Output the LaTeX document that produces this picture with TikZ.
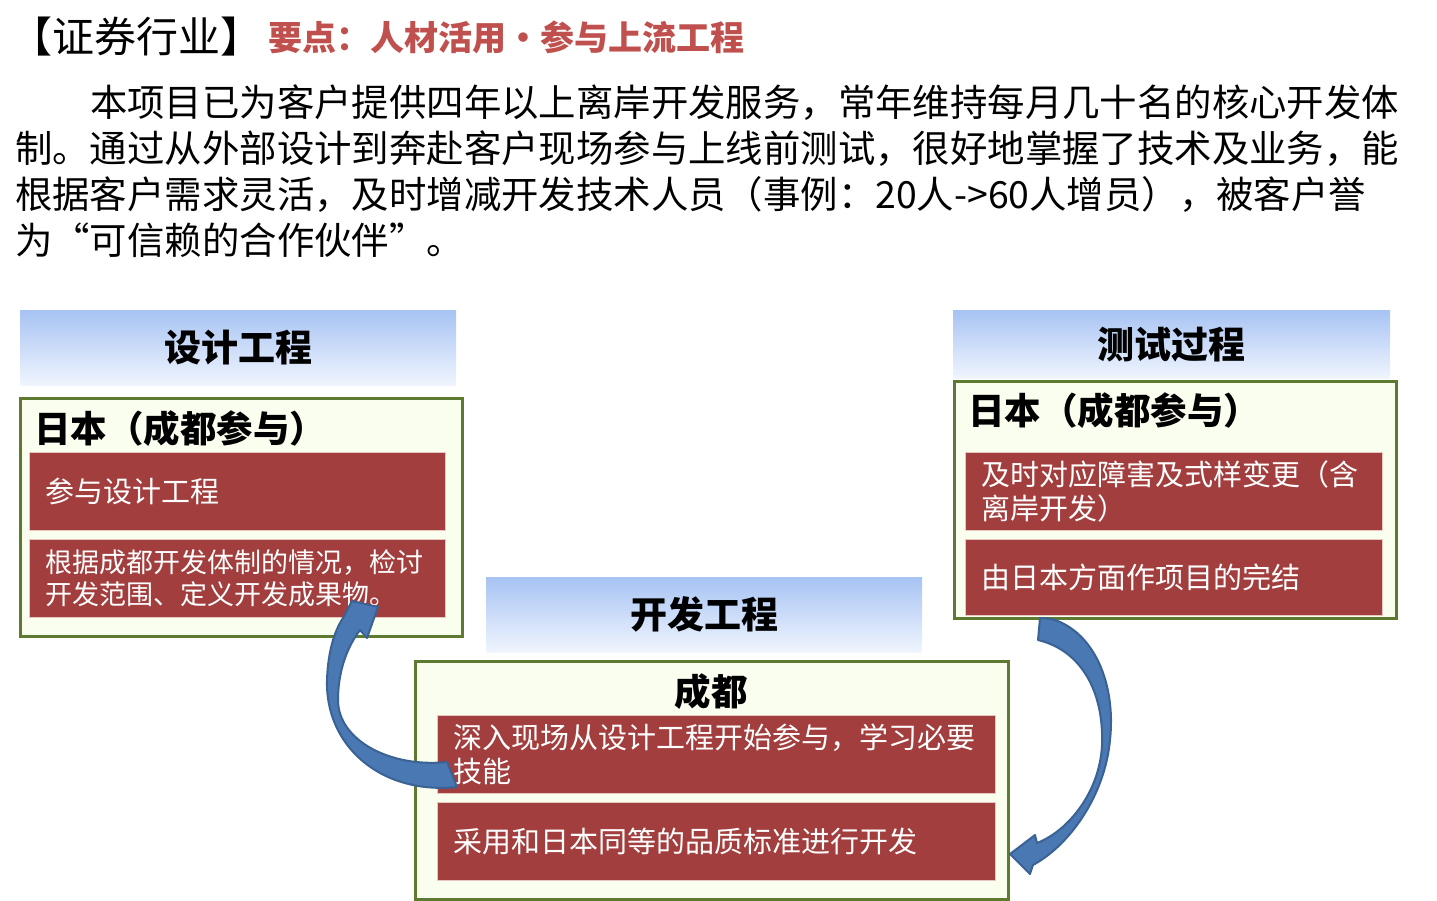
\documentclass[tikz,border=0pt]{standalone}
\usepackage{fontspec}
\setmainfont{Noto Sans CJK SC}
\usepackage{xcolor}
\usepackage{tikz}
\usetikzlibrary{positioning}
\definecolor{hdrtop}{HTML}{A7C3F3}
\definecolor{hdrbot}{HTML}{F0F5FE}
\definecolor{grnfill}{HTML}{FAFEEF}
\definecolor{grnstroke}{HTML}{5E7A31}
\definecolor{redfill}{HTML}{A23E3D}
\definecolor{redline}{HTML}{E6C9BE}
\definecolor{arrfill}{HTML}{4978B3}
\definecolor{arrstroke}{HTML}{3A6294}
\definecolor{keyred}{HTML}{C0504D}
\tikzset{
  intro/.style={align=left, inner sep=0pt, anchor=north west,
                font=\fontsize{37.4}{45.7}\selectfont},
  stagehdr/.style={top color=hdrtop, bottom color=hdrbot, anchor=north west,
                   minimum width=436pt, minimum height=75pt, inner sep=0pt,
                   font=\fontsize{37}{40}\selectfont\bfseries},
  sidebox/.style={draw=grnstroke, fill=grnfill, line width=3pt,
                  anchor=north west, inner sep=0pt},
  sidehead/.style={inner sep=0pt, font=\fontsize{36.5}{39}\selectfont\bfseries},
  taskbox/.style={fill=redfill, draw=redline, line width=1pt, text=white,
                  anchor=north west, align=left, inner xsep=16pt, inner ysep=0pt,
                  minimum height=78pt, font=\fontsize{29}{34}\selectfont},
  bluearrow/.style={fill=arrfill, draw=arrstroke, line width=2pt, line join=round}
}
\begin{document}
\begin{tikzpicture}[x=1pt, y=-1pt]
  \useasboundingbox (0,0) rectangle (1437,900);

  % --- title and intro text ---
  \node[anchor=west, inner sep=0pt, font=\fontsize{42}{46}\selectfont] (sector) at (10,37) {【证券行业】};
  \node[right=6pt of sector, inner sep=0pt, text=keyred,
        font=\fontsize{34}{37}\selectfont\bfseries] (keypts) {要点：人材活用・参与上流工程};
  \node[intro] (summary) at (15,85) {\hspace*{2em}本项目已为客户提供四年以上离岸开发服务，常年维持每月几十名的核心开发体\\
    制。通过从外部设计到奔赴客户现场参与上线前测试，很好地掌握了技术及业务，能\\
    根据客户需求灵活，及时增减开发技术人员（事例：20人->60人增员），被客户誉\\
    为“可信赖的合作伙伴”。};

  % --- design stage (left) ---
  \node[stagehdr] (designhdr) at (20,310) {设计工程};
  \node[sidebox, minimum width=442pt, minimum height=238pt] (designbox) at (19,397) {};
  \node[sidehead, anchor=west] (designhead) at (34,429) {日本（成都参与）};
  \node[taskbox, text width=384pt] (design1) at (29,452) {参与设计工程};
  \node[taskbox, text width=384pt, font=\fontsize{27}{32}\selectfont] (design2) at (29,539)
    {根据成都开发体制的情况，检讨\\开发范围、定义开发成果物。};

  % --- test stage (right) ---
  \node[stagehdr, minimum width=437pt, minimum height=68pt] (testhdr) at (953,310) {测试过程};
  \node[sidebox, minimum width=442pt, minimum height=237pt] (testbox) at (953,380) {};
  \node[sidehead, anchor=west] (testhead) at (968,411) {日本（成都参与）};
  \node[taskbox, text width=385pt] (test1) at (965,452) {及时对应障害及式样变更（含\\离岸开发）};
  \node[taskbox, text width=385pt, minimum height=76pt] (test2) at (965,539) {由日本方面作项目的完结};

  % --- development stage (middle) ---
  \node[stagehdr] (devhdr) at (486,577) {开发工程};
  \node[sidebox, minimum width=593pt, minimum height=238pt] (devbox) at (414,660) {};
  \node[sidehead] (devhead) at (711,692) {成都};
  \node[taskbox, text width=526pt] (dev1) at (437,715) {深入现场从设计工程开始参与，学习必要\\技能};
  \node[taskbox, text width=526pt] (dev2) at (437,802) {采用和日本同等的品质标准进行开发};

  % --- curved block arrows ---
  % dev -> design
  \draw[bluearrow] (457,787) .. controls (380,795) and (325,745) .. (327,680)
    .. controls (328,650) and (335,630) .. (343,618) -- (352,601) -- (378,607)
    -- (367,638) -- (360,630) .. controls (345,650) and (338,675) .. (338,700)
    .. controls (338,740) and (390,768) .. (447,762) -- cycle;
  % test -> dev
  \draw[bluearrow] (1040,618) -- (1052,619) .. controls (1095,632) and (1116,685) .. (1110,740)
    .. controls (1105,795) and (1070,845) .. (1033,865) -- (1030,874) -- (1010,854)
    -- (1035,835) -- (1037,843) .. controls (1070,830) and (1100,790) .. (1102,745)
    .. controls (1104,690) and (1080,650) .. (1038,640) -- cycle;

\end{tikzpicture}
\end{document}
